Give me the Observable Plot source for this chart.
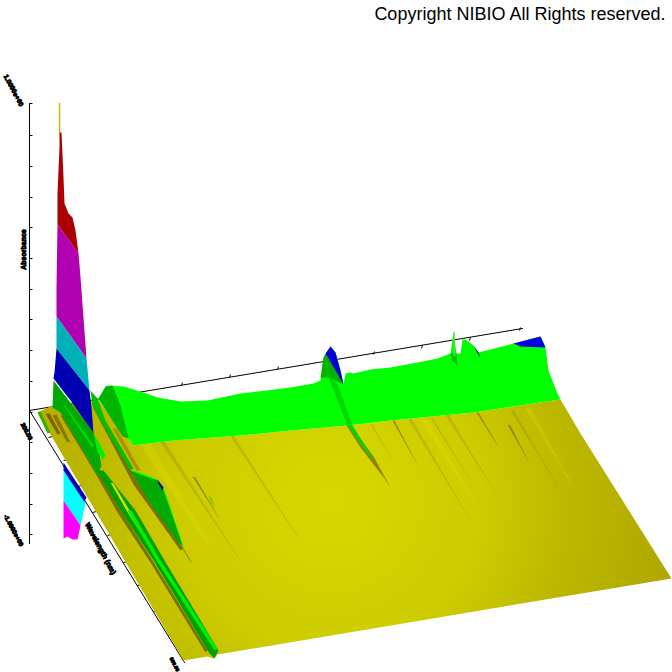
<!DOCTYPE html>
<html>
<head>
<meta charset="utf-8">
<style>html,body{margin:0;padding:0;background:#fff}svg{display:block}</style>
<script src="https://cdn.jsdelivr.net/npm/d3@7"></script>
<script src="https://cdn.jsdelivr.net/npm/@observablehq/plot@0.6"></script>
</head>
<body>
<div id="chart"></div>
<script>
// Projected chart values (horizontal, vertical)
const copyright = "Copyright NIBIO All Rights reserved.";
const absorbanceAxis = [[29,103],[29,543]];
const absorbanceTicks = [[29,103],[29,135],[29,166],[29,197],[29,227],[29,258],[29,289],[29,319],[29,350],[29,381],[29,412],[29,442],[29,473],[29,504],[29,534]];
const wavelengthAxis = [[29,410],[184,662]];
const wavelengthTicks = [[48,437],[63,460],[77,486],[92,512],[107,535],[123,562],[137,585],[153,611],[168,635]];
const timeAxis = [[29,410],[522,328]];
const timeTicks = [[85,401],[133,393],[181,385],[229,377],[277,369],[325,361],[373,354],[421,348],[469,340],[519,330]];
const axisLabels = [
  {text:"1.0000e+00", at:[13,90], angle:62, size:6.6},
  {text:"Absorbance", at:[23,249], angle:-90, size:7},
  {text:"-1.0000e+00", at:[13,530], angle:62, size:6.2},
  {text:"200.00", at:[26,431], angle:62, size:6},
  {text:"Wavelength (nm)", at:[100,548], angle:62, size:7.2},
  {text:"800.00", at:[174,664], angle:62, size:5}
];

const mirrorBlue = [[63,462],[86,497],[83,503],[63,470]];
const mirrorCyan = [[63,470],[85,503],[80,525],[63,500]];
const mirrorMagenta = [[63,500],[80,525],[77,539],[72,539],[67,536],[63,538]];

const surface = [[37,412],[52,405],[98,400],[133,445],[173,440],[240,435],[290,430],[347,425],[390,420],[473,412],[560,399],[580,433],[671,578],[217,654],[213,658],[207,656],[183,660]];
const plateau = [[97,398],[100,398],[107,385],[123,386],[140,391],[157,397],[180,401],[207,400],[240,393],[290,387],[313,383],[320,380],[323,357],[330,346],[335,352],[340,370],[343,384],[345,373],[350,372],[353,373],[370,369],[390,367],[417,362],[437,358],[450,353],[453,331],[456,353],[460,353],[462,339],[465,339],[473,345],[478,352],[513,343],[540,336],[545,347],[548,370],[557,393],[560,399],[473,412],[390,420],[347,425],[290,430],[240,435],[173,440],[133,445]];
const humpShade = [[98,398],[105,386],[112,385],[120,405],[128,438],[122,436]];
const peakBlue = [[325,353],[330,346],[335,352],[340,370],[343,384]];
const peakShade = [[320,377],[323,357],[325,353],[343,384],[335,380],[328,377]];
const endBlue = [[513,343],[540,336],[545,347],[520,346]];
const nearBlue = [[473,345],[478,352],[480,358]];
const spikeTip = [[453,331],[454,331],[455,356],[453,356]];
const spikeWedge = [[450,353],[456,353],[457,365],[452,360]];

const ridgeOlive = [[346,425],[350,425],[373,456],[390,487],[384,478],[360,447]];
const ridgeBright = [[328,377],[336,381],[352,425],[374,460],[368,454],[347,425]];
const streaksDark = [
  [[507,424],[510,425],[529,463],[525,456]],
  [[192,476],[195,477],[220,520],[216,514]],
  [[180,545],[183,548],[192,563],[189,560]],
  [[476,412],[478,412],[498,446],[495,442]],
  [[392,420],[394,420],[418,466],[415,461]]
];
const streaksFaint = [
  [[370,424],[372,424],[398,470],[395,465]],
  [[408,419],[411,418],[470,520],[466,514]],
  [[445,415],[448,414],[500,500],[496,494]],
  [[430,417],[432,417],[470,480],[467,476]],
  [[160,442],[164,441],[240,560],[236,555]],
  [[230,436],[233,435],[300,540],[296,535]],
  [[510,410],[513,409],[560,490],[556,484]]
];
const streaksGold = [
  [[420,419],[426,418],[480,510],[472,500]],
  [[140,445],[150,443],[210,545],[200,535]],
  [[525,408],[530,407],[575,490],[568,480]]
];

const spikeLine = [[59,103],[59,132]];
const spikeRed = [[59,132],[61,132],[63,177],[64,203],[68,213],[72,217],[75,230],[78,253],[57,224],[57,193],[59,147]];
const spikeMagenta = [[57,224],[78,253],[80,277],[86,358],[56,316],[56,287]];
const spikeTeal = [[56,316],[86,358],[89,390],[56,348]];
const spikeBlue = [[56,348],[89,390],[91,407],[93,433],[70,400],[53,378],[54,372]];
const baseGreen = [[53,380],[93,432],[97,445],[101,465],[97,475],[90,462],[60,412],[52,407]];
const baseLight = [[62,403],[65,406],[94,446],[91,446]];
const basePatch = [[93,433],[100,445],[105,455],[103,459],[97,452]];

const edgeStripeA = [[37,412],[40,411],[50,432],[47,433]];
const edgeStripeB = [[45,413],[49,413],[60,433],[57,434]];
const edgeStripeC = [[52,415],[56,414],[70,442],[66,441]];
const goldStripes = [
  [[100,420],[104,420],[130,466],[126,466]],
  [[112,428],[116,428],[140,470],[136,470]]
];
const longDark = [[60,415],[64,415],[98,470],[120,510],[152,560],[207,650],[205,652],[150,562],[117,512],[95,473]];
const longDarkGreen = [[96,470],[103,470],[135,510],[164,560],[218,650],[214,658],[209,653],[153,560],[120,510]];
const longYellow = [[110,482],[113,483],[129,510],[145,535],[143,537],[126,510]];
const longBright = [[127,510],[131,510],[160,560],[217,648],[214,650],[156,560]];
const upperRidge = [[90,390],[97,398],[105,420],[133,468],[130,470],[100,420],[92,405]];
const upperDark = [[92,406],[95,408],[136,480],[183,548],[180,550],[133,484]];
const hump = [[130,470],[142,475],[157,480],[163,490],[170,510],[182,545],[178,542],[150,503]];
const humpEdge = [[130,469],[142,473],[157,479],[164,490],[171,510],[183,546],[181,545],[169,512],[162,491],[157,481],[142,476]];
const humpBlue = [[157,479],[163,487],[162,490],[158,483]];
const farStreakGreen = [[208,494],[212,498],[214,506],[210,502]];

const gradient = () => {
  const defs = d3.create("svg:defs");
  const g = defs.append("radialGradient").attr("id","surfaceShade").attr("gradientUnits","userSpaceOnUse")
    .attr("cx",330).attr("cy",500).attr("r",340);
  g.append("stop").attr("offset","0%").attr("stop-color","#d8d800");
  g.append("stop").attr("offset","45%").attr("stop-color","#cccc00");
  g.append("stop").attr("offset","70%").attr("stop-color","#bcb800");
  g.append("stop").attr("offset","100%").attr("stop-color","#b0a800");
  return defs.node();
};

const poly = (pts, fill, extra={}) => Plot.line(pts, {x:d=>d[0], y:d=>d[1], fill, stroke:"none", curve:"linear", ...extra});
const rule = (pts) => Plot.line(pts, {x:d=>d[0], y:d=>d[1], stroke:"#000", strokeWidth:1, curve:"linear"});

const chart = Plot.plot({
  width:672, height:672, margin:0,
  style:{background:"#fff"},
  x:{domain:[0,672], range:[0,672], axis:null},
  y:{domain:[0,672], range:[0,672], axis:null},
  marks:[
    gradient,
    rule(absorbanceAxis),
    rule(wavelengthAxis),
    rule(timeAxis),
    Plot.link(absorbanceTicks, {x1:d=>d[0], x2:d=>d[0]+3, y1:d=>d[1], y2:d=>d[1], stroke:"#000"}),
    Plot.link(wavelengthTicks, {x1:d=>d[0], x2:d=>d[0]+4, y1:d=>d[1], y2:d=>d[1]-1, stroke:"#000"}),
    Plot.link(timeTicks, {x1:d=>d[0], x2:d=>d[0]+1, y1:d=>d[1], y2:d=>d[1]-3, stroke:"#000"}),
    ...axisLabels.map(l => Plot.text([l], {x:d=>d.at[0], y:d=>d.at[1], text:d=>d.text, rotate:l.angle, fontSize:l.size, fontWeight:"bold", fill:"#000", stroke:"#000", strokeWidth:0.9, fontFamily:"Liberation Sans"})),
    Plot.text([copyright], {x:()=>665, y:()=>14, text:d=>d, textAnchor:"end", fontSize:18, fill:"#000", fontFamily:"Liberation Sans"}),

    poly(mirrorBlue,"#0000b4"), poly(mirrorCyan,"#00ffff"), poly(mirrorMagenta,"#ff00ff"),

    poly(surface,"url(#surfaceShade)"),
    poly(plateau,"#00ff00"),
    poly(humpShade,"#00b400"),
    poly(endBlue,"#0000e0"),
    poly(peakShade,"#00b400"),
    poly(peakBlue,"#0000d0"),
    poly(nearBlue,"#0000c0"),
    poly(spikeWedge,"#00c000"),
    poly(spikeTip,"#40e040"),
    ...streaksGold.map(s => poly(s,"#e6e600",{fillOpacity:0.25})),
    ...streaksFaint.map(s => poly(s,"#8a8400",{fillOpacity:0.3})),
    ...streaksDark.map(s => poly(s,"#7a7000",{fillOpacity:0.7})),
    poly(ridgeOlive,"#8a8400"),
    poly(ridgeBright,"#00d800"),
    poly(farStreakGreen,"#a0c000"),

    poly(edgeStripeA,"#30b000"), poly(edgeStripeB,"#7a6400"), poly(edgeStripeC,"#8a7800"),
    ...goldStripes.map(s => poly(s,"#a89400")),
    poly(longDark,"#7a7000"),
    poly(longDarkGreen,"#00a000"),
    poly(longYellow,"#d8e000"),
    poly(longBright,"#00f000"),
    poly(upperDark,"#7a7000"),
    poly(upperRidge,"#00c000"),
    poly(humpEdge,"#00ff00"),
    poly(hump,"#00aa00"),
    poly(humpBlue,"#0000b0"),

    Plot.line(spikeLine, {x:d=>d[0], y:d=>d[1], stroke:"#c8b400", strokeWidth:1.4}),
    poly(spikeRed,"#aa0000"),
    poly(spikeMagenta,"#b000b0"),
    poly(spikeTeal,"#00b0b8"),
    poly(spikeBlue,"#0000b0"),
    poly(baseGreen,"#00aa00"),
    poly(baseLight,"#00e000"),
    poly(basePatch,"#00f000")
  ]
});
document.getElementById("chart").append(chart);
</script>
</body>
</html>
